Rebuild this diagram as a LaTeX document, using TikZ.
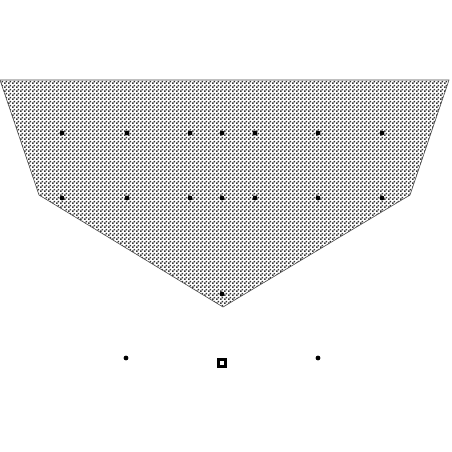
\documentclass[tikz,border=0pt]{standalone}
\usetikzlibrary{patterns.meta}
\tikzdeclarepattern{name=finecheck, type=uncolored, bottom left={(0pt,0pt)}, top right={(3.6pt,3.6pt)}, tile size={(3.6pt,3.6pt)},
  code={\fill (0pt,0pt) rectangle (1.8pt,1.8pt); \fill (1.8pt,1.8pt) rectangle (3.6pt,3.6pt);}}
\tikzset{
  pt/.style={circle, fill=black, inner sep=0pt, minimum size=4.8pt},
  sq/.style={rectangle, draw=black, line width=2.8pt, fill=white, inner sep=0pt, minimum size=6.5pt},
  region/.style={draw=black!70, line width=0.6pt, pattern={finecheck}, pattern color=black!80}
}
\begin{document}
\begin{tikzpicture}[x=1pt,y=-1pt]
\useasboundingbox (0,0) rectangle (452,452);
\fill[white] (0,0) rectangle (452,452);
\coordinate (A) at (0,80);
\coordinate (B) at (449,80);
\coordinate (C) at (410,195);
\coordinate (D) at (223,307);
\coordinate (E) at (39,195);
\draw[region] (A) -- (B) -- (C) -- (D) -- (E) -- cycle;
\foreach \x [count=\i] in {62,127,190,222,255,318,382} {
  \node[pt] (r1\i) at (\x,133) {};
  \node[pt] (r2\i) at (\x,198) {};
}
\node[pt] (bot) at (222,294) {};
\node[pt] (l) at (126,358) {};
\node[pt] (r) at (318,358) {};
\node[sq] (s) at (222,363) {};
\end{tikzpicture}
\end{document}
